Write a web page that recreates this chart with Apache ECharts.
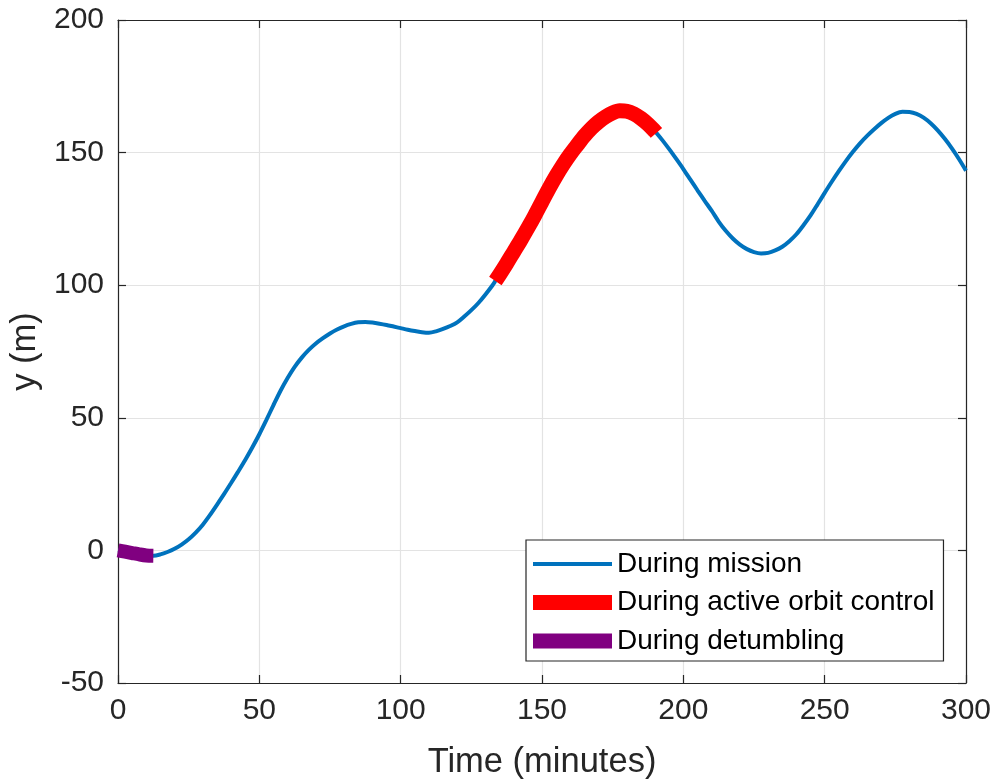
<!DOCTYPE html>
<html>
<head>
<meta charset="utf-8">
<script src="https://cdn.jsdelivr.net/npm/echarts@6/dist/echarts.min.js"></script>
<style>html,body{margin:0;padding:0;background:#fff}#c{width:997px;height:782px}</style>
</head>
<body>
<div id="c"></div>
<script>
// Time (minutes)
const times = [0,2.5,5,7.5,10,12.5,15,17.5,20,22.5,25,27.5,30,32.5,35,37.5,40,42.5,45,47.5,50,52.5,55,57.5,60,62.5,65,67.5,70,72.5,75,77.5,80,82.5,85,87.5,90,92.5,95,97.5,100,102.5,105,107.5,110,112.5,115,117.5,120,122.5,125,127.5,130,132.5,133.5,135,137.5,140,142.5,145,147.5,150,152.5,155,157.5,160,162.5,165,167.5,170,172.5,175,177.5,180,182.5,185,187.5,190,190.5,192.5,195,197.5,200,202.5,205,207.5,210,212.5,215,217.5,220,222.5,225,227.5,230,232.5,235,237.5,240,242.5,245,247.5,250,252.5,255,257.5,260,262.5,265,267.5,270,272.5,275,277.5,280,282.5,285,287.5,290,292.5,295,297.5,300];
// y (m)
const yValues = [0,-0.5,-1.0,-1.5,-1.9,-2.0,-1.5,-0.6,0.6,2.2,4.2,6.7,9.7,13.3,17.2,21.2,25.4,29.7,34.1,38.8,43.8,49.2,54.8,60.2,65.0,69.2,72.7,75.6,78.0,80.0,81.8,83.3,84.5,85.4,86.0,86.1,85.9,85.5,85.0,84.4,83.8,83.2,82.7,82.3,82.1,82.6,83.5,84.6,86.0,88.2,90.6,93.3,96.5,100.0,101.6,104.0,108.2,112.6,117.0,121.6,126.4,131.5,136.5,141.2,145.5,149.4,152.9,156.3,159.2,161.6,163.5,165.0,165.8,165.6,164.6,162.9,160.7,158.0,157.4,154.8,151.3,147.6,143.8,139.8,135.8,131.9,128.1,124.0,120.5,117.6,115.3,113.6,112.5,112.0,112.2,113.1,114.5,116.6,119.2,122.6,126.3,130.5,134.8,139.0,143.0,146.8,150.3,153.5,156.3,158.8,161.1,163.1,164.6,165.4,165.3,164.6,163.2,161.1,158.4,155.2,151.6,147.6,143.2];
const orbitControlStart = 133.5, orbitControlEnd = 190.5;
const detumblingEnd = 12.5;
const seriesNames = ['During mission', 'During active orbit control', 'During detumbling'];
const xTicks = {min: 0, max: 300, interval: 50};
const yTicks = {min: -50, max: 200, interval: 50};

const all = times.map((t, i) => [t, yValues[i]]);
const orbit = all.filter(p => p[0] >= orbitControlStart && p[0] <= orbitControlEnd);
const detumb = all.filter(p => p[0] <= detumblingEnd);

const FONT = 'Liberation Sans, Arial, Helvetica, sans-serif';
const AX = '#262626';
const GRID = '#e3e3e3';
const BLUE = '#0072BD', RED = '#FF0000', PURPLE = '#800080';

function xAx(pos, main) {
  return {
    type: 'value', position: pos, min: xTicks.min, max: xTicks.max, interval: xTicks.interval,
    axisLine: {show: true, onZero: false, lineStyle: {color: AX, width: 1.2}},
    axisTick: {show: true, inside: true, length: 8, lineStyle: {color: AX, width: 1.2}},
    axisLabel: {show: main, fontSize: 30, color: AX, fontFamily: FONT, margin: 13},
    splitLine: {show: main, lineStyle: {color: GRID, width: 1.2}},
    name: main ? 'Time (minutes)' : '', nameLocation: 'middle', nameGap: 62,
    nameTextStyle: {fontSize: 34.5, color: AX, fontFamily: FONT}
  };
}
function yAx(pos, main) {
  return {
    type: 'value', position: pos, min: yTicks.min, max: yTicks.max, interval: yTicks.interval,
    axisLine: {show: true, onZero: false, lineStyle: {color: AX, width: 1.2}},
    axisTick: {show: true, inside: true, length: 8, lineStyle: {color: AX, width: 1.2}},
    axisLabel: {show: main, fontSize: 30, color: AX, fontFamily: FONT, margin: 14},
    splitLine: {show: main, lineStyle: {color: GRID, width: 1.2}},
    name: main ? 'y (m)' : '', nameLocation: 'middle', nameGap: 75,
    nameTextStyle: {fontSize: 34.5, color: AX, fontFamily: FONT}
  };
}

const chart = echarts.init(document.getElementById('c'), null, {renderer: 'canvas'});
chart.setOption({
  animation: false,
  backgroundColor: '#fff',
  grid: {left: 118, right: 31, top: 20, bottom: 99, containLabel: false, outerBoundsMode: 'none'},
  xAxis: [xAx('bottom', true), xAx('top', false)],
  yAxis: [yAx('left', true), yAx('right', false)],
  legend: {
    orient: 'vertical', left: 526, top: 540,
    backgroundColor: '#fff', borderColor: '#262626', borderWidth: 1.2,
    padding: [9, 9, 5, 7],
    itemWidth: 79, itemHeight: 16, itemGap: 8.5, symbolKeepAspect: true,
    textStyle: {fontSize: 28, color: '#000', fontFamily: FONT, lineHeight: 30},
    data: [
      {name: seriesNames[0], icon: 'path://M0 0H79V4H0Z', itemStyle: {color: BLUE}},
      {name: seriesNames[1], icon: 'path://M0 0H79V15H0Z', itemStyle: {color: RED}},
      {name: seriesNames[2], icon: 'path://M0 0H79V15H0Z', itemStyle: {color: PURPLE}}
    ]
  },
  series: [
    {name: seriesNames[0], type: 'line', data: all, smooth: 0.3, symbol: 'none', showSymbol: false, z: 2,
     lineStyle: {color: BLUE, width: 4}, itemStyle: {color: BLUE}},
    {name: seriesNames[1], type: 'line', data: orbit, smooth: 0.3, symbol: 'none', showSymbol: false, z: 3,
     lineStyle: {color: RED, width: 15, cap: 'butt'}, itemStyle: {color: RED}},
    {name: seriesNames[2], type: 'line', data: detumb, smooth: 0.3, symbol: 'none', showSymbol: false, z: 4,
     lineStyle: {color: PURPLE, width: 14, cap: 'butt'}, itemStyle: {color: PURPLE}}
  ]
});
</script>
</body>
</html>
